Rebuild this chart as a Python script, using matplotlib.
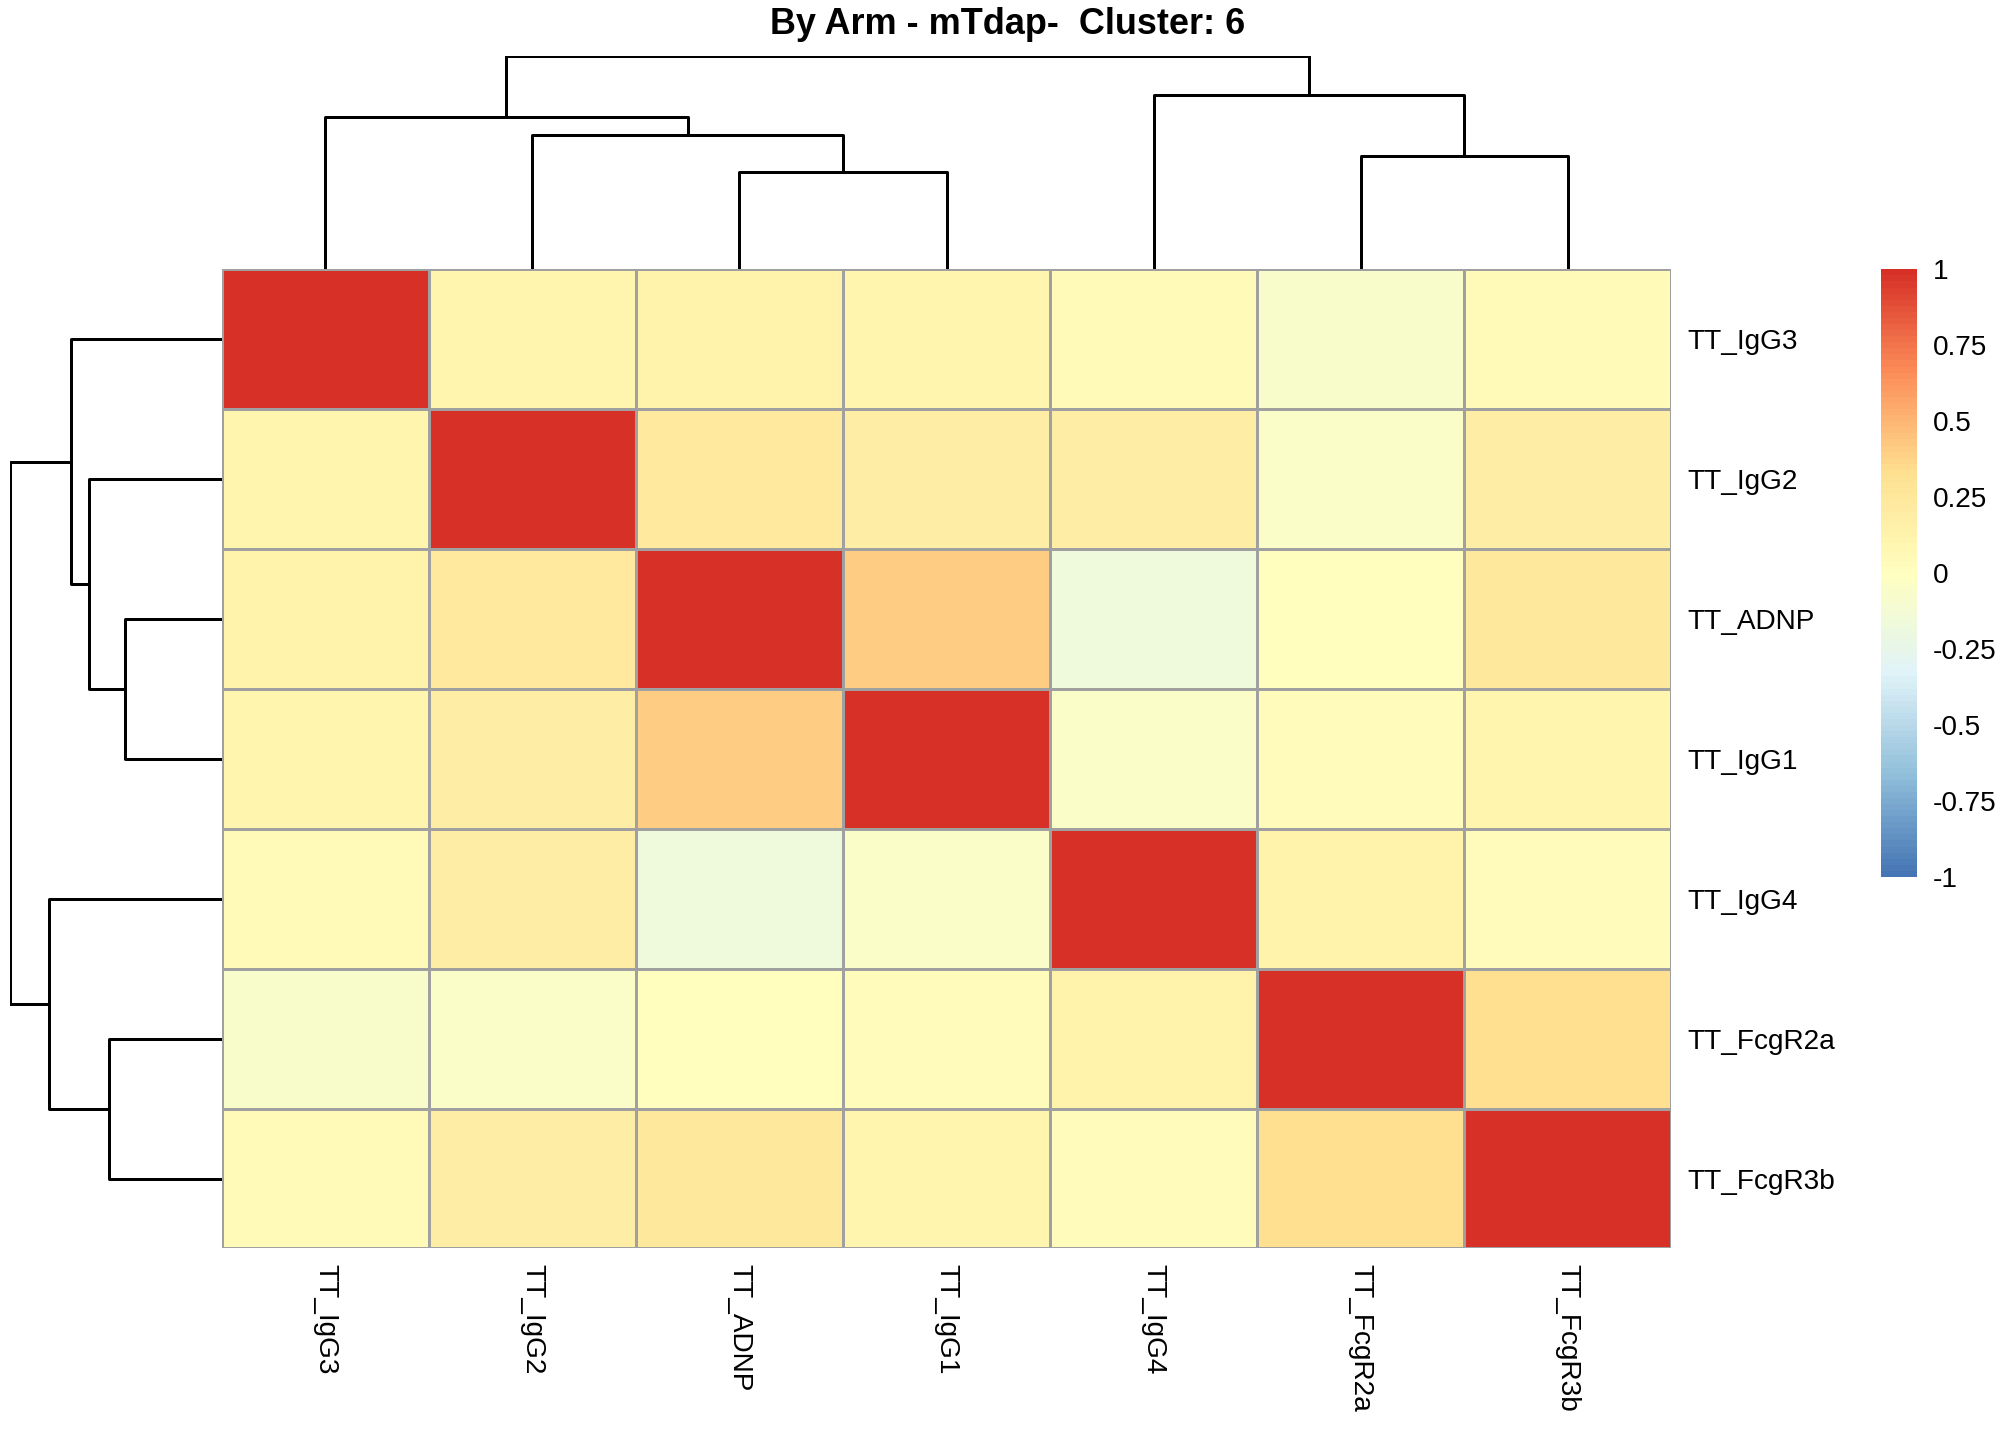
import numpy as np
import matplotlib.pyplot as plt
from matplotlib.colors import LinearSegmentedColormap

plt.rcParams['font.family'] = ['Liberation Sans', 'DejaVu Sans']

labels = ['TT_IgG3', 'TT_IgG2', 'TT_ADNP', 'TT_IgG1', 'TT_IgG4', 'TT_FcgR2a', 'TT_FcgR3b']
corr = np.array([
    [1.00, 0.10, 0.12, 0.10, 0.05, -0.08, 0.05],
    [0.10, 1.00, 0.22, 0.18, 0.18, -0.05, 0.18],
    [0.12, 0.22, 1.00, 0.40, -0.18, 0.00, 0.25],
    [0.10, 0.18, 0.40, 1.00, -0.05, 0.03, 0.10],
    [0.05, 0.18, -0.18, -0.05, 1.00, 0.12, 0.03],
    [-0.08, -0.05, 0.00, 0.03, 0.12, 1.00, 0.32],
    [0.05, 0.18, 0.25, 0.10, 0.03, 0.32, 1.00],
])
# merges: (left node, right node, height); leaves 0..6, new nodes 7..
merges = [(2, 3, 75), (1, 7, 103), (0, 8, 117), (5, 6, 87), (4, 10, 134), (9, 11, 164)]

# pheatmap default palette (rev RdYlBu, 7 colours)
cmap = LinearSegmentedColormap.from_list('rdylbu', ['#4575B4', '#91BFDB', '#E0F3F8', '#FFFFBF',
                                                     '#FEE090', '#FC8D59', '#D73027'], N=100)

fig = plt.figure(figsize=(14, 10), dpi=144)
L, R, B, T = 0.110, 0.829, 0.133, 0.813
ax = fig.add_axes([L, B, R - L, T - B])
n = len(labels)
ax.pcolormesh(corr, cmap=cmap, vmin=-1, vmax=1, edgecolors='#A0A0A0', linewidth=1.5)
ax.set_xlim(0, n)
ax.set_ylim(n, 0)
for s in ax.spines.values():
    s.set_visible(False)
ax.set_xticks(np.arange(n) + 0.5)
ax.set_xticklabels(labels, rotation=270, fontsize=14)
ax.set_yticks(np.arange(n) + 0.5)
ax.yaxis.tick_right()
ax.set_yticklabels(labels, fontsize=14)
ax.tick_params(length=0, pad=8)


def dendro(a, orient):
    pos = {i: i + 0.5 for i in range(n)}
    hgt = {i: 0 for i in range(n)}
    for k, (p, q, h) in enumerate(merges):
        xs = [pos[p], pos[p], pos[q], pos[q]]
        ys = [hgt[p], h, h, hgt[q]]
        if orient == 'top':
            a.plot(xs, ys, color='black', lw=1.5)
        else:
            a.plot(ys, xs, color='black', lw=1.5)
        pos[n + k] = (pos[p] + pos[q]) / 2
        hgt[n + k] = h
    a.axis('off')


axt = fig.add_axes([L, T, R - L, 0.961 - T])
dendro(axt, 'top')
axt.set_xlim(0, n)
axt.set_ylim(0, 164)

axl = fig.add_axes([0.005, B, L - 0.005, T - B])
dendro(axl, 'left')
axl.set_ylim(n, 0)
axl.set_xlim(164, 0)

cax = fig.add_axes([0.933, 0.391, 0.018, T - 0.391])
cb = fig.colorbar(plt.cm.ScalarMappable(cmap=cmap, norm=plt.Normalize(-1, 1)), cax=cax)
cb.outline.set_visible(False)
cb.set_ticks([-1, -0.75, -0.5, -0.25, 0, 0.25, 0.5, 0.75, 1])
cb.set_ticklabels(['-1', '-0.75', '-0.5', '-0.25', '0', '0.25', '0.5', '0.75', '1'])
cb.ax.tick_params(length=0, labelsize=14, pad=8)

fig.suptitle('By Arm - mTdap-  Cluster: 6', y=0.995, fontsize=18, fontweight='bold')
fig.savefig('out.png', dpi=144)
